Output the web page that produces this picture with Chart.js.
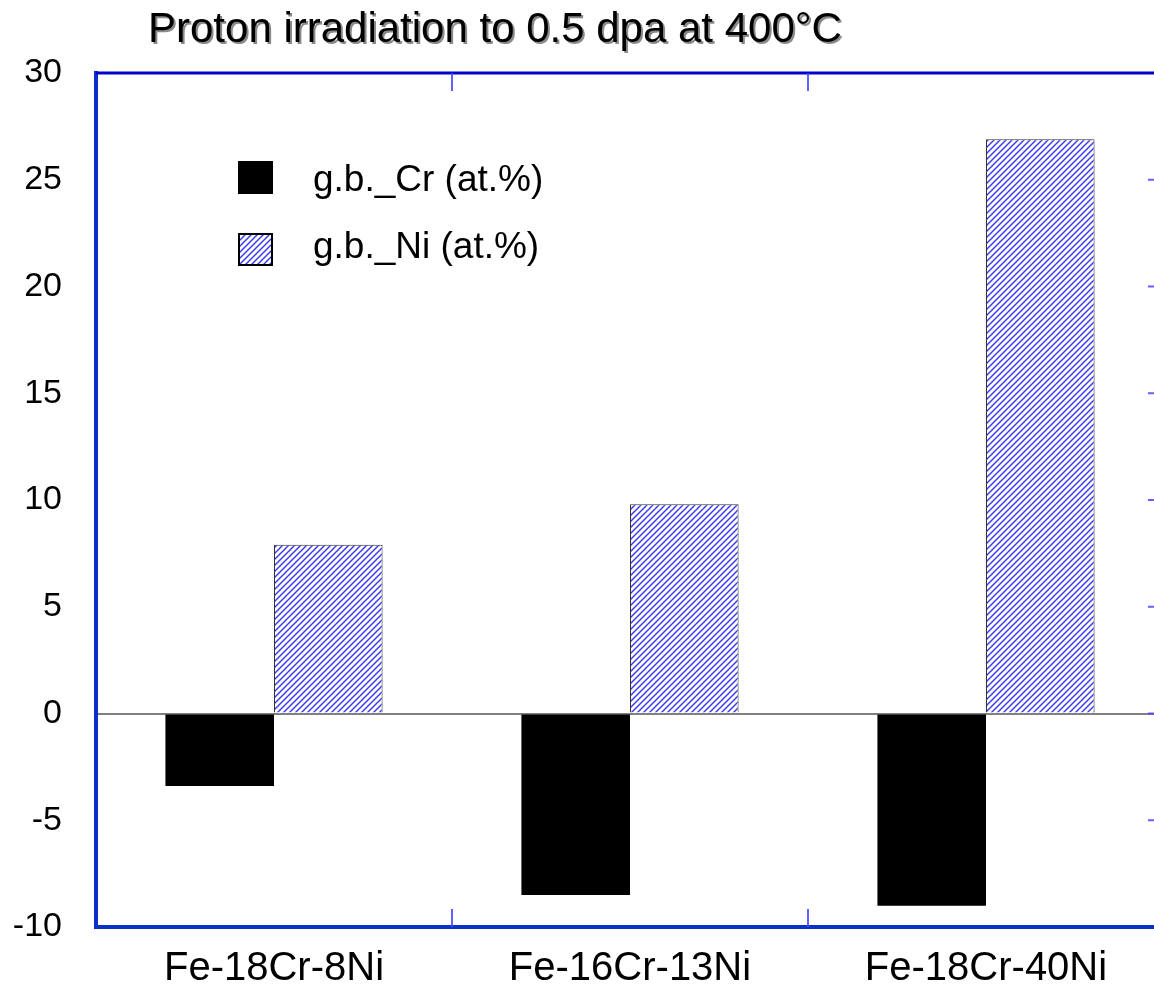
<!DOCTYPE html>
<html>
<head>
<meta charset="utf-8">
<script src="https://cdn.jsdelivr.net/npm/chart.js@4.4.1/dist/chart.umd.min.js"></script>
<style>
  body { margin: 0; background: #fff; overflow: hidden; }
</style>
</head>
<body>
<canvas id="segChart" width="1170" height="990"></canvas>
<script>
// -------------------- DATA --------------------
const alloys = ["Fe-18Cr-8Ni", "Fe-16Cr-13Ni", "Fe-18Cr-40Ni"];
const crValues = [-3.4, -8.5, -9.0];
const niValues = [7.9, 9.8, 26.9];
const seriesNames = ["g.b._Cr (at.%)", "g.b._Ni (at.%)"];
const yTicks = [-10, -5, 0, 5, 10, 15, 20, 25, 30];
const chartTitle = "Proton irradiation to 0.5 dpa at 400°C";

const FONT = '"Liberation Sans", Arial, sans-serif';
const AXIS_BLUE = "#0a32c8";

// -------------------- HATCH PATTERN --------------------
function makeHatch() {
  const p = document.createElement("canvas");
  p.width = 6;
  p.height = 6;
  const g = p.getContext("2d");
  g.fillStyle = "#fff";
  g.fillRect(0, 0, 6, 6);
  g.strokeStyle = "#3c3cf0";
  g.lineWidth = 1.5;
  g.beginPath();
  g.moveTo(0, 6); g.lineTo(6, 0);
  g.moveTo(-1, 1); g.lineTo(1, -1);
  g.moveTo(5, 7); g.lineTo(7, 5);
  g.stroke();
  return g.createPattern(p, "repeat");
}

// -------------------- PLUGINS --------------------
const titlePlugin = {
  id: "shadowTitle",
  afterDraw(chart) {
    const c = chart.ctx;
    c.save();
    c.font = "42px " + FONT;
    c.textBaseline = "alphabetic";
    c.fillStyle = "#8a8a8a";
    c.fillText(chartTitle, 150, 44);
    c.fillStyle = "#000";
    c.fillText(chartTitle, 148, 42);
    c.restore();
  }
};

const framePlugin = {
  id: "frame",
  afterDraw(chart) {
    const c = chart.ctx;
    const a = chart.chartArea;
    const x = chart.scales.x;
    const y = chart.scales.y;
    c.save();
    // top border
    c.strokeStyle = "#0000cc";
    c.lineWidth = 3;
    c.beginPath();
    c.moveTo(a.left, a.top);
    c.lineTo(a.right, a.top);
    c.stroke();

    // inward ticks
    c.strokeStyle = "rgba(70,70,255,0.85)";
    c.lineWidth = 2;
    c.beginPath();
    yTicks.forEach(v => {
      if (v === yTicks[0] || v === yTicks[yTicks.length - 1]) return;
      const py = y.getPixelForValue(v);
      c.moveTo(a.right - 16, py);
      c.lineTo(a.right, py);
    });
    for (let i = 0; i < alloys.length - 1; i++) {
      const px = (x.getPixelForValue(i) + x.getPixelForValue(i + 1)) / 2;
      c.moveTo(px, a.top);
      c.lineTo(px, a.top + 18);
      c.moveTo(px, a.bottom);
      c.lineTo(px, a.bottom - 18);
    }
    c.stroke();

    // legend
    c.font = "37px " + FONT;
    c.textBaseline = "alphabetic";
    chart.data.datasets.forEach((ds, i) => {
      const top = 161 + i * 72;
      c.fillStyle = ds.backgroundColor;
      c.fillRect(238, top, 35, 33);
      if (i === 1) {
        c.strokeStyle = "#000";
        c.lineWidth = 2;
        c.strokeRect(239, top + 1, 33, 31);
      }
      c.fillStyle = "#000";
      c.fillText(ds.label, 313, 191 + i * 67);
    });
    c.restore();
  }
};

// -------------------- CHART --------------------
const ctx = document.getElementById("segChart").getContext("2d");

new Chart(ctx, {
  type: "bar",
  data: {
    labels: alloys,
    datasets: [
      {
        label: seriesNames[0],
        data: crValues,
        backgroundColor: "#000",
        borderWidth: 0
      },
      {
        label: seriesNames[1],
        data: niValues,
        backgroundColor: makeHatch(),
        borderColor: "#333",
        borderWidth: 1
      }
    ]
  },
  options: {
    responsive: false,
    animation: false,
    devicePixelRatio: 1,
    layout: { padding: { top: 73, right: 6, left: 0, bottom: 0 } },
    plugins: {
      legend: { display: false },
      tooltip: { enabled: false }
    },
    datasets: {
      bar: { categoryPercentage: 0.61, barPercentage: 1.0 }
    },
    scales: {
      x: {
        grid: { display: false, drawTicks: false },
        border: { color: AXIS_BLUE, width: 4 },
        ticks: { color: "#000", font: { family: FONT, size: 40 }, padding: 18 },
        afterFit: (s) => { s.height = 63; }
      },
      y: {
        min: yTicks[0],
        max: yTicks[yTicks.length - 1],
        afterBuildTicks: (s) => { s.ticks = yTicks.map(v => ({ value: v })); },
        grid: {
          drawTicks: false,
          color: (c) => (c.tick && c.tick.value === 0 ? "#808080" : "rgba(0,0,0,0)"),
          lineWidth: 2
        },
        border: { color: AXIS_BLUE, width: 4 },
        ticks: { color: "#000", font: { family: FONT, size: 34 }, padding: 34 },
        afterFit: (s) => { s.width = 96; }
      }
    }
  },
  plugins: [titlePlugin, framePlugin]
});
</script>
</body>
</html>
